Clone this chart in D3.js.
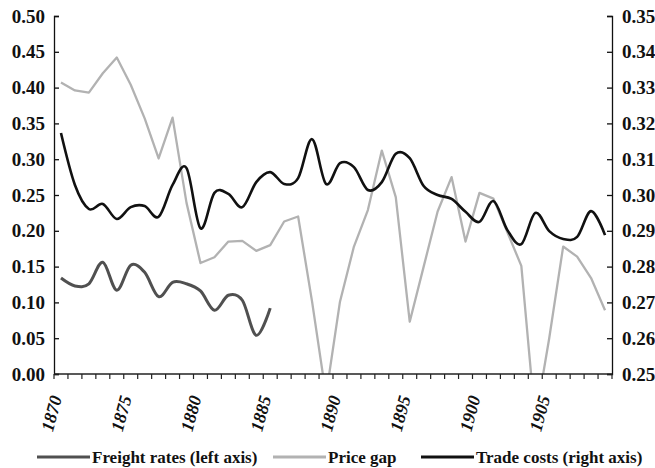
<!DOCTYPE html>
<html><head><meta charset="utf-8">
<script src="https://cdn.jsdelivr.net/npm/d3@7"></script>
<style>
body{margin:0;background:#fff}
svg{display:block}
text{font-family:"Liberation Serif","Times New Roman",serif;font-weight:bold;fill:#111}
</style>
</head><body>
<svg id="c" width="655" height="468"></svg>
<script>
const years = [1870,1871,1872,1873,1874,1875,1876,1877,1878,1879,
               1880,1881,1882,1883,1884,1885,1886,1887,1888,1889,
               1890,1891,1892,1893,1894,1895,1896,1897,1898,1899,
               1900,1901,1902,1903,1904,1905,1906,1907,1908,1909];
const freightYears = [1870,1871,1872,1873,1874,1875,1876,1877,1878,1879,1880,1881,1882,1883,1884,1885];
const freightRates = [0.134,0.123,0.126,0.156,0.117,0.152,0.142,0.108,0.128,0.126,0.116,0.089,0.110,0.103,0.054,0.092];
const priceGap = [0.407,0.396,0.393,0.420,0.442,0.404,0.357,0.301,0.358,0.239,
                  0.155,0.163,0.185,0.186,0.172,0.180,0.213,0.220,0.101,-0.030,
                  0.101,0.178,0.229,0.312,0.247,0.073,0.150,0.227,0.275,0.185,
                  0.253,0.245,0.198,0.151,-0.065,0.050,0.178,0.164,0.134,0.089];
const tradeCosts = [0.3173,0.3028,0.2961,0.2975,0.2933,0.2966,0.2969,0.2939,0.3028,0.3075,
                    0.2907,0.3006,0.3003,0.2966,0.3036,0.3064,0.3031,0.3047,0.3156,0.3031,
                    0.3089,0.3078,0.3014,0.3036,0.3115,0.3103,0.3025,0.3000,0.2989,0.2953,
                    0.2925,0.2983,0.2902,0.2863,0.2950,0.2899,0.2877,0.2883,0.2955,0.2888];
const leftTicks = [0,0.05,0.10,0.15,0.20,0.25,0.30,0.35,0.40,0.45,0.50];
const rightTicks = [0.25,0.26,0.27,0.28,0.29,0.30,0.31,0.32,0.33,0.34,0.35];
const xTickLabels = [1870,1875,1880,1885,1890,1895,1900,1905];
const seriesNames = ["Freight rates (left axis)","Price gap","Trade costs (right axis)"];
const seriesColors = ["#505050","#b2b2b2","#111111"];

const svg = d3.select("#c");
const L = 54, R = 612, T = 16, B = 374;

const x = d3.scaleBand().domain(years).range([L, R]).padding(0);
const cx = d => x(d) + x.bandwidth()/2;
const yL = d3.scaleLinear().domain([0, 0.5]).range([B, T]);
const yR = d3.scaleLinear().domain([0.25, 0.35]).range([B, T]);

svg.append("defs").append("clipPath").attr("id","plot")
  .append("rect").attr("x", L).attr("y", T).attr("width", R-L).attr("height", B-T);

const g = svg.append("g").attr("clip-path","url(#plot)");

// Price gap (straight segments)
g.append("path")
  .datum(years.map((yr,i)=>[yr, priceGap[i]]))
  .attr("fill","none").attr("stroke",seriesColors[1]).attr("stroke-width",2.3)
  .attr("stroke-linejoin","round")
  .attr("d", d3.line().x(d=>cx(d[0])).y(d=>yL(d[1])));

// Freight rates (smoothed)
g.append("path")
  .datum(freightYears.map((yr,i)=>[yr, freightRates[i]]))
  .attr("fill","none").attr("stroke",seriesColors[0]).attr("stroke-width",3)
  .attr("d", d3.line().curve(d3.curveCatmullRom.alpha(0)).x(d=>cx(d[0])).y(d=>yL(d[1])));

// Trade costs (smoothed, right axis)
g.append("path")
  .datum(years.map((yr,i)=>[yr, tradeCosts[i]]))
  .attr("fill","none").attr("stroke",seriesColors[2]).attr("stroke-width",2.6)
  .attr("d", d3.line().curve(d3.curveCatmullRom.alpha(0)).x(d=>cx(d[0])).y(d=>yR(d[1])));

// Left axis (ticks inside)
const axL = d3.axisRight(yL).tickValues(leftTicks).tickSize(5).tickFormat(d3.format(".2f"));
const gl = svg.append("g").attr("transform",`translate(${L},0)`).call(axL);
gl.select(".domain").attr("stroke","#111").attr("stroke-width",1.3);
gl.selectAll(".tick line").attr("stroke","#111").attr("stroke-width",1.3);
gl.selectAll(".tick text").attr("x",-9).attr("text-anchor","end")
  .style("font-size","19px").attr("fill","#111");

// Right axis (ticks inside)
const axR = d3.axisLeft(yR).tickValues(rightTicks).tickSize(5).tickFormat(d3.format(".2f"));
const gr = svg.append("g").attr("transform",`translate(${R},0)`).call(axR);
gr.select(".domain").attr("stroke","#111").attr("stroke-width",1.3);
gr.selectAll(".tick line").attr("stroke","#111").attr("stroke-width",1.3);
gr.selectAll(".tick text").attr("x",10).attr("text-anchor","start")
  .style("font-size","19px").attr("fill","#111");

// Bottom axis
const gb = svg.append("g");
gb.append("line").attr("x1",L).attr("x2",R).attr("y1",B).attr("y2",B)
  .attr("stroke","#222").attr("stroke-width",1.3);
const boundaries = years.map(yr => x(yr)).concat([x(years[years.length-1]) + x.bandwidth()]);
gb.selectAll("line.tk").data(boundaries).enter().append("line").attr("class","tk")
  .attr("x1",d=>d).attr("x2",d=>d).attr("y1",B).attr("y2",B+5)
  .attr("stroke","#222").attr("stroke-width",1.2);
gb.selectAll("text.xl").data(xTickLabels).enter().append("text").attr("class","xl")
  .attr("transform",d=>`translate(${cx(d)-5},${396}) rotate(-75)`)
  .attr("text-anchor","end").attr("dy","0.35em")
  .style("font-size","18px").style("font-style","italic")
  .text(d=>d);

// Legend
const legendX = [37, 273, 421];
const lg = svg.append("g");
seriesNames.forEach((name,i)=>{
  lg.append("line").attr("x1",legendX[i]).attr("x2",legendX[i]+53)
    .attr("y1",457).attr("y2",457)
    .attr("stroke",seriesColors[i]).attr("stroke-width",3);
  lg.append("text").attr("x",legendX[i]+55).attr("y",463)
    .style("font-size","17px").text(name);
});
</script>
</body></html>
